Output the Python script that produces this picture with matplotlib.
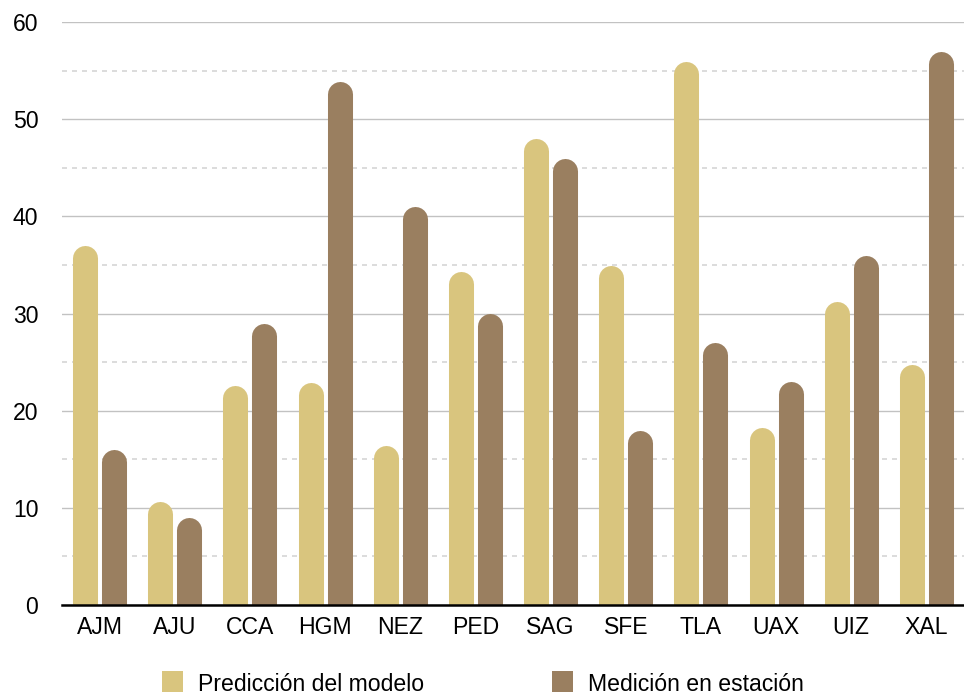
import matplotlib
matplotlib.use("Agg")
from matplotlib import pyplot as plt
from matplotlib.patches import Rectangle
import numpy as np

plt.rcParams["font.family"] = ["Liberation Sans", "DejaVu Sans"]

stations = ["AJM", "AJU", "CCA", "HGM", "NEZ", "PED",
            "SAG", "SFE", "TLA", "UAX", "UIZ", "XAL"]
prediccion = [37.0, 10.7, 22.6, 22.9, 16.4, 34.3,
              48.0, 34.9, 55.9, 18.3, 31.2, 24.8]
medicion = [16.0, 9.0, 29.0, 53.9, 41.0, 30.0,
            46.0, 18.0, 27.0, 23.0, 36.0, 57.0]
series_names = ["Predicción del modelo", "Medición en estación"]

color_pred = "#d9c57e"
color_med = "#9a7f60"

fig = plt.figure(figsize=(9.64, 6.95), dpi=100)
pos = [0.0643, 0.1295, 0.9357, 0.8388]
ax = fig.add_axes(pos)
ax.set_xlim(-0.5, len(stations) - 0.5)
ax.set_ylim(0, 60)

# bars are thick lines with round caps; work out the cap height in data units
bar_w = 0.333
offset = 0.193
px_per_x = pos[2] * fig.get_figwidth() * fig.dpi / len(stations)
px_per_y = pos[3] * fig.get_figheight() * fig.dpi / 60
bar_px = bar_w * px_per_x
cap = bar_px / 2 / px_per_y
lw = bar_px * 72 / fig.dpi

x = np.arange(len(stations))
for xi, v in zip(x, prediccion):
    ax.plot([xi - offset, xi - offset], [0, v - cap], color=color_pred,
            lw=lw, solid_capstyle="round", zorder=3)
for xi, v in zip(x, medicion):
    ax.plot([xi + offset, xi + offset], [0, v - cap], color=color_med,
            lw=lw, solid_capstyle="round", zorder=3)

# grid: solid every 10, dashed in between
ax.set_yticks(np.arange(0, 61, 10))
ax.set_yticks(np.arange(5, 60, 10), minor=True)
ax.yaxis.grid(True, which="major", color="#c2c2c2", lw=1.0)
ax.yaxis.grid(True, which="minor", color="#d6d6d6", lw=1.2, dashes=(3, 3))
ax.set_axisbelow(True)

ax.set_xticks(x)
ax.set_xticklabels(stations)
ax.tick_params(axis="both", which="both", length=0, labelsize=16.6)
ax.tick_params(axis="y", pad=17)
ax.tick_params(axis="x", pad=8)

for side in ["top", "right", "left"]:
    ax.spines[side].set_visible(False)
ax.spines["bottom"].set_color("black")
ax.spines["bottom"].set_linewidth(1.8)
ax.spines["bottom"].set_zorder(5)

# legend along the bottom
W, H = 964, 695
for sx, tx, col, name in [(162, 198, color_pred, series_names[0]),
                          (552, 588, color_med, series_names[1])]:
    fig.add_artist(Rectangle((sx / W, 1 - 692 / H), 21 / W, 21 / H,
                             transform=fig.transFigure, color=col, lw=0))
    fig.text(tx / W, 1 - 691 / H, name, fontsize=16.6, va="baseline")

fig.savefig("out.png", dpi=100)
